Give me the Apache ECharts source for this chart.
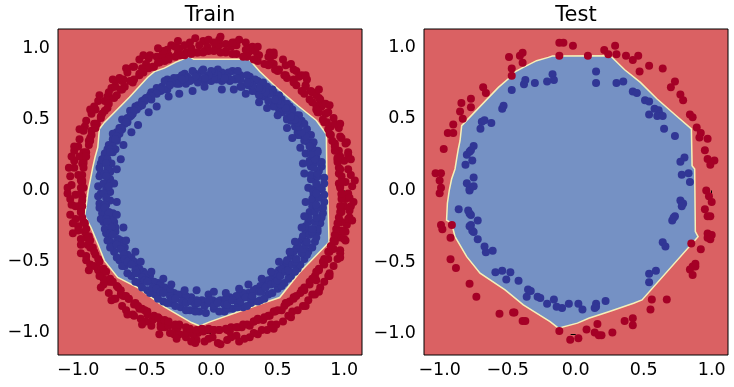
<!DOCTYPE html>
<html><head><meta charset="utf-8">
<script src="https://cdn.jsdelivr.net/npm/echarts/dist/echarts.min.js"></script>
<style>html,body{margin:0;padding:0;background:#fff}#c{width:734px;height:387px}</style>
</head><body><div id="c"></div>
<script>
const titles = ['Train', 'Test'];
const xTicks = [-1.0, -0.5, 0.0, 0.5, 1.0];
const yTicks = [-1.0, -0.5, 0.0, 0.5, 1.0];
const trainXRange = [-1.152, 1.134];
const trainYRange = [-1.155, 1.135];
const testXRange = [-1.115, 1.12];
const testYRange = [-1.147, 1.126];

const trainBoundary = [[-0.925,0.001],[-0.908,0.079],[-0.891,0.161],[-0.874,0.232],[-0.853,0.303],[-0.841,0.432],[-0.803,0.479],[-0.615,0.655],[-0.477,0.796],[-0.427,0.836],[-0.352,0.860],[-0.265,0.902],[-0.192,0.930],[-0.162,0.943],[-0.132,0.922],[0.284,0.922],[0.365,0.836],[0.490,0.726],[0.653,0.596],[0.791,0.492],[0.866,0.396],[0.871,-0.013],[0.878,-0.069],[0.886,-0.363],[0.665,-0.575],[0.515,-0.751],[0.365,-0.798],[0.189,-0.857],[-0.011,-0.922],[-0.086,-0.951],[-0.149,-0.927],[-0.352,-0.817],[-0.553,-0.681],[-0.703,-0.610],[-0.803,-0.492],[-0.853,-0.374],[-0.902,-0.263],[-0.951,-0.175],[-0.938,-0.092]];

const testBoundary = [[-0.929,0.003],[-0.912,0.080],[-0.887,0.150],[-0.875,0.220],[-0.863,0.289],[-0.850,0.347],[-0.838,0.452],[-0.568,0.719],[-0.482,0.789],[-0.446,0.828],[-0.385,0.859],[-0.287,0.905],[-0.201,0.928],[-0.171,0.937],[0.255,0.939],[0.360,0.842],[0.476,0.754],[0.599,0.638],[0.733,0.526],[0.851,0.429],[0.856,0.173],[0.875,0.150],[0.880,-0.287],[0.900,-0.322],[0.488,-0.763],[0.426,-0.786],[0.243,-0.845],[0.096,-0.891],[0.013,-0.925],[-0.127,-0.960],[-0.188,-0.914],[-0.385,-0.798],[-0.519,-0.693],[-0.703,-0.577],[-0.801,-0.461],[-0.887,-0.322],[-0.912,-0.229],[-0.949,-0.206],[-0.943,-0.089]];

const trainRed = [
[1.03,-0.02],[0.96,0.05],[1.05,0.11],[0.98,0.10],[1.00,0.21],[0.95,0.22],[1.03,0.27],[0.96,0.28],[0.98,0.37],[0.90,0.39],[0.96,0.44],[0.90,0.45],[0.86,0.54],[0.88,0.55],[0.80,0.55],[0.82,0.64],[0.76,0.69],[0.79,0.67],[0.71,0.74],[0.72,0.78],[0.62,0.78],[0.64,0.84],[0.56,0.81],[0.56,0.88],[0.47,0.89],[0.47,0.95],[0.45,0.90],[0.36,0.95],[0.35,0.95],[0.29,1.00],[0.28,0.97],[0.19,1.02],[0.18,1.04],[0.11,0.98],[0.11,1.03],[0.03,1.00],
[0.97,0.03],[1.06,0.03],[1.01,0.06],[1.03,0.15],[0.96,0.16],[1.03,0.25],[0.97,0.24],[1.01,0.33],[0.93,0.33],[0.97,0.38],[0.93,0.47],[0.87,0.48],[0.92,0.51],[0.83,0.59],[0.86,0.61],[0.79,0.60],[0.81,0.65],[0.71,0.73],[0.75,0.70],[0.66,0.80],[0.68,0.81],[0.62,0.77],[0.62,0.85],[0.51,0.85],[0.54,0.92],[0.44,0.89],[0.44,0.97],[0.43,0.94],[0.31,1.01],[0.33,0.98],[0.26,1.04],[0.26,0.99],[0.15,1.01],[0.16,1.04],[0.06,1.02],[0.06,1.06],
[0.97,0.02],[0.98,0.06],[0.96,0.12],[0.97,0.15],[0.95,0.20],[0.95,0.23],[0.93,0.28],[0.93,0.31],[0.91,0.35],[0.89,0.40],[0.88,0.43],[0.85,0.48],[0.84,0.50],[0.81,0.55],[0.79,0.57],[0.76,0.62],[0.74,0.64],[0.70,0.68],[0.68,0.70],[0.64,0.74],[0.62,0.76],[0.57,0.79],[0.55,0.81],[0.50,0.84],[0.48,0.85],[0.43,0.88],[0.40,0.89],[0.35,0.91],[0.32,0.92],[0.27,0.94],[0.24,0.94],[0.19,0.96],[0.16,0.96],[0.11,0.97],[0.07,0.97],[0.02,0.98],
[1.08,0.07],[1.05,0.22],[1.02,0.34],[0.97,0.47],[0.89,0.60],[0.81,0.71],[0.71,0.81],[0.60,0.89],[0.47,0.97],[0.35,1.01],[0.21,1.06],[0.07,1.08],
[0.02,1.04],[-0.05,0.98],[-0.06,1.05],[-0.15,1.00],[-0.16,1.04],[-0.25,0.97],[-0.24,1.00],[-0.32,0.95],[-0.33,0.99],[-0.41,0.94],[-0.40,0.90],[-0.47,0.93],[-0.49,0.89],[-0.58,0.87],[-0.54,0.81],[-0.63,0.83],[-0.67,0.77],[-0.66,0.78],[-0.75,0.72],[-0.72,0.73],[-0.80,0.63],[-0.77,0.64],[-0.87,0.57],[-0.83,0.52],[-0.90,0.54],[-0.87,0.47],[-0.95,0.45],[-0.91,0.37],[-0.99,0.36],[-0.96,0.27],[-1.03,0.28],[-0.96,0.21],[-1.03,0.21],[-1.00,0.11],[-1.06,0.10],[-0.97,0.06],
[-0.03,1.01],[-0.02,1.06],[-0.10,0.97],[-0.09,1.02],[-0.19,0.97],[-0.20,1.02],[-0.30,1.02],[-0.27,1.01],[-0.37,0.95],[-0.36,0.98],[-0.46,0.95],[-0.43,0.87],[-0.54,0.92],[-0.52,0.86],[-0.59,0.87],[-0.59,0.76],[-0.69,0.79],[-0.68,0.71],[-0.72,0.77],[-0.78,0.66],[-0.77,0.69],[-0.85,0.63],[-0.80,0.56],[-0.88,0.59],[-0.88,0.47],[-0.94,0.49],[-0.90,0.42],[-0.96,0.42],[-0.92,0.35],[-1.00,0.31],[-0.99,0.24],[-1.05,0.24],[-0.97,0.19],[-1.03,0.16],[-0.98,0.07],[-1.05,0.04],
[-0.02,0.98],[-0.06,0.97],[-0.11,0.97],[-0.15,0.96],[-0.20,0.95],[-0.23,0.95],[-0.27,0.94],[-0.32,0.92],[-0.35,0.91],[-0.39,0.90],[-0.44,0.87],[-0.47,0.86],[-0.51,0.83],[-0.54,0.82],[-0.58,0.78],[-0.61,0.77],[-0.65,0.73],[-0.67,0.71],[-0.71,0.67],[-0.73,0.65],[-0.77,0.61],[-0.78,0.58],[-0.82,0.54],[-0.83,0.51],[-0.86,0.47],[-0.87,0.44],[-0.90,0.39],[-0.91,0.35],[-0.92,0.32],[-0.94,0.27],[-0.94,0.24],[-0.96,0.19],[-0.96,0.16],[-0.97,0.11],[-0.97,0.07],[-0.98,0.02],
[-0.12,1.07],[-0.25,1.05],[-0.40,1.00],[-0.51,0.95],[-0.64,0.86],[-0.74,0.78],[-0.84,0.67],[-0.91,0.57],[-0.99,0.43],[-1.03,0.31],[-1.07,0.16],[-1.08,0.02],
[-1.02,-0.03],[-0.97,-0.04],[-1.05,-0.10],[-0.98,-0.10],[-1.02,-0.20],[-0.96,-0.22],[-1.00,-0.25],[-0.94,-0.33],[-0.98,-0.34],[-0.90,-0.40],[-0.94,-0.46],[-0.87,-0.45],[-0.91,-0.52],[-0.83,-0.58],[-0.85,-0.56],[-0.77,-0.64],[-0.81,-0.66],[-0.71,-0.67],[-0.73,-0.76],[-0.66,-0.74],[-0.67,-0.81],[-0.58,-0.80],[-0.59,-0.87],[-0.52,-0.83],[-0.53,-0.90],[-0.45,-0.95],[-0.44,-0.91],[-0.35,-0.96],[-0.38,-0.94],[-0.28,-1.01],[-0.27,-0.96],[-0.19,-1.03],[-0.19,-1.00],[-0.11,-1.05],[-0.10,-1.00],[-0.02,-1.04],
[-0.96,0.02],[-1.06,-0.06],[-0.98,-0.13],[-1.02,-0.11],[-0.98,-0.15],[-1.04,-0.23],[-0.95,-0.29],[-1.00,-0.28],[-0.93,-0.38],[-0.98,-0.38],[-0.91,-0.40],[-0.94,-0.49],[-0.85,-0.55],[-0.88,-0.53],[-0.81,-0.62],[-0.84,-0.60],[-0.75,-0.64],[-0.77,-0.72],[-0.68,-0.73],[-0.72,-0.76],[-0.62,-0.76],[-0.64,-0.84],[-0.54,-0.83],[-0.58,-0.88],[-0.48,-0.87],[-0.49,-0.92],[-0.38,-0.96],[-0.39,-0.90],[-0.31,-1.00],[-0.32,-0.95],[-0.24,-1.01],[-0.25,-0.96],[-0.14,-1.01],[-0.15,-1.06],[-0.06,-0.99],[-0.05,-1.06],
[-0.98,-0.02],[-0.97,-0.07],[-0.97,-0.11],[-0.98,-0.15],[-0.97,-0.19],[-0.95,-0.23],[-0.94,-0.27],[-0.92,-0.32],[-0.91,-0.35],[-0.89,-0.40],[-0.88,-0.43],[-0.85,-0.48],[-0.84,-0.50],[-0.81,-0.55],[-0.79,-0.57],[-0.76,-0.62],[-0.74,-0.64],[-0.70,-0.68],[-0.68,-0.70],[-0.64,-0.74],[-0.62,-0.76],[-0.57,-0.79],[-0.55,-0.81],[-0.50,-0.84],[-0.48,-0.85],[-0.43,-0.88],[-0.40,-0.89],[-0.35,-0.91],[-0.32,-0.92],[-0.27,-0.94],[-0.24,-0.94],[-0.19,-0.96],[-0.16,-0.97],[-0.11,-0.98],[-0.07,-0.97],[-0.02,-0.98],
[-1.08,-0.02],[-1.06,-0.17],[-1.04,-0.30],[-0.98,-0.44],[-0.92,-0.56],[-0.83,-0.68],[-0.75,-0.77],[-0.63,-0.87],[-0.52,-0.94],[-0.39,-1.01],[-0.26,-1.04],[-0.12,-1.07],
[0.01,-1.03],[0.02,-0.98],[0.12,-1.05],[0.12,-0.98],[0.19,-1.02],[0.20,-0.96],[0.29,-1.03],[0.29,-0.95],[0.38,-0.98],[0.35,-0.90],[0.45,-0.94],[0.44,-0.88],[0.54,-0.92],[0.53,-0.84],[0.61,-0.85],[0.59,-0.78],[0.69,-0.81],[0.67,-0.72],[0.76,-0.73],[0.74,-0.66],[0.82,-0.68],[0.78,-0.60],[0.88,-0.60],[0.85,-0.52],[0.92,-0.53],[0.89,-0.43],[0.97,-0.44],[0.93,-0.36],[1.00,-0.34],[0.97,-0.33],[1.02,-0.24],[0.98,-0.22],[1.04,-0.19],[1.00,-0.11],[1.05,-0.11],[0.98,-0.03],
[-0.02,-0.97],[0.05,-1.07],[0.06,-0.98],[0.15,-1.03],[0.14,-0.99],[0.25,-1.04],[0.23,-0.96],[0.32,-1.00],[0.32,-0.92],[0.42,-0.98],[0.39,-0.91],[0.49,-0.94],[0.47,-0.85],[0.58,-0.88],[0.56,-0.79],[0.65,-0.84],[0.62,-0.75],[0.73,-0.77],[0.70,-0.70],[0.78,-0.73],[0.79,-0.63],[0.85,-0.64],[0.81,-0.56],[0.89,-0.58],[0.88,-0.48],[0.95,-0.48],[0.92,-0.41],[0.97,-0.42],[0.94,-0.32],[1.01,-0.29],[0.98,-0.28],[1.03,-0.20],[0.98,-0.15],[1.04,-0.14],[1.01,-0.06],[1.04,-0.05],
[0.02,-0.98],[0.06,-0.98],[0.11,-0.97],[0.15,-0.96],[0.19,-0.96],[0.24,-0.94],[0.27,-0.94],[0.32,-0.92],[0.35,-0.91],[0.40,-0.89],[0.43,-0.88],[0.48,-0.85],[0.50,-0.84],[0.55,-0.81],[0.57,-0.79],[0.62,-0.76],[0.64,-0.74],[0.68,-0.70],[0.70,-0.68],[0.74,-0.64],[0.76,-0.62],[0.79,-0.57],[0.81,-0.55],[0.84,-0.50],[0.85,-0.48],[0.88,-0.43],[0.90,-0.39],[0.92,-0.35],[0.93,-0.31],[0.94,-0.27],[0.95,-0.23],[0.96,-0.19],[0.97,-0.15],[0.97,-0.11],[0.98,-0.06],[0.98,-0.02],
[0.07,-1.08],[0.21,-1.06],[0.35,-1.01],[0.47,-0.97],[0.60,-0.89],[0.71,-0.81],[0.81,-0.71],[0.89,-0.60],[0.97,-0.47],[1.01,-0.35],[1.06,-0.21],[1.07,-0.08]
];

const trainBlue = [
[0.83,0.01],[0.76,0.01],[0.85,0.09],[0.77,0.09],[0.83,0.17],[0.75,0.17],[0.79,0.23],[0.74,0.21],[0.80,0.28],[0.73,0.34],[0.76,0.32],[0.67,0.39],[0.72,0.43],[0.65,0.41],[0.68,0.49],[0.60,0.49],[0.64,0.53],[0.57,0.50],[0.59,0.59],[0.51,0.57],[0.53,0.64],[0.47,0.60],[0.47,0.69],[0.40,0.66],[0.42,0.73],[0.35,0.69],[0.35,0.77],[0.28,0.74],[0.29,0.80],[0.22,0.73],[0.22,0.81],[0.14,0.77],[0.16,0.84],[0.08,0.77],[0.08,0.83],[0.00,0.77],
[0.77,-0.03],[0.85,0.05],[0.75,0.08],[0.81,0.14],[0.75,0.11],[0.83,0.20],[0.74,0.19],[0.80,0.27],[0.71,0.26],[0.77,0.34],[0.70,0.35],[0.75,0.39],[0.65,0.39],[0.70,0.47],[0.63,0.45],[0.66,0.53],[0.57,0.51],[0.61,0.57],[0.53,0.55],[0.57,0.61],[0.47,0.59],[0.51,0.67],[0.43,0.63],[0.46,0.71],[0.36,0.67],[0.39,0.76],[0.31,0.70],[0.33,0.78],[0.23,0.73],[0.27,0.81],[0.18,0.78],[0.20,0.84],[0.10,0.78],[0.13,0.83],[0.04,0.78],[0.05,0.85],
[0.81,0.02],[0.79,0.05],[0.80,0.10],[0.80,0.12],[0.77,0.16],[0.79,0.20],[0.78,0.22],[0.75,0.26],[0.76,0.30],[0.74,0.31],[0.71,0.36],[0.71,0.38],[0.68,0.41],[0.66,0.45],[0.65,0.48],[0.63,0.50],[0.60,0.52],[0.57,0.56],[0.56,0.58],[0.52,0.61],[0.50,0.63],[0.48,0.64],[0.44,0.68],[0.41,0.69],[0.38,0.71],[0.36,0.72],[0.31,0.74],[0.29,0.76],[0.27,0.76],[0.22,0.78],[0.19,0.79],[0.15,0.78],[0.12,0.80],[0.10,0.79],[0.05,0.81],[0.02,0.79],
[0.73,0.02],[0.70,0.12],[0.69,0.19],[0.67,0.30],[0.61,0.37],[0.57,0.44],[0.50,0.53],[0.42,0.58],[0.36,0.62],[0.26,0.68],[0.17,0.71],[0.08,0.71],
[0.02,0.83],[-0.05,0.77],[-0.06,0.85],[-0.13,0.78],[-0.12,0.82],[-0.19,0.75],[-0.20,0.82],[-0.27,0.76],[-0.25,0.79],[-0.33,0.71],[-0.33,0.78],[-0.41,0.71],[-0.37,0.73],[-0.45,0.64],[-0.45,0.69],[-0.52,0.61],[-0.49,0.65],[-0.57,0.59],[-0.55,0.60],[-0.63,0.51],[-0.59,0.54],[-0.67,0.50],[-0.63,0.48],[-0.71,0.41],[-0.67,0.43],[-0.74,0.36],[-0.71,0.37],[-0.78,0.29],[-0.72,0.29],[-0.80,0.25],[-0.75,0.19],[-0.83,0.19],[-0.76,0.13],[-0.83,0.12],[-0.78,0.05],[-0.85,0.03],
[-0.03,0.78],[0.00,0.84],[-0.10,0.76],[-0.07,0.84],[-0.18,0.80],[-0.14,0.84],[-0.24,0.75],[-0.22,0.81],[-0.31,0.75],[-0.28,0.79],[-0.38,0.70],[-0.35,0.77],[-0.43,0.69],[-0.41,0.72],[-0.50,0.64],[-0.46,0.67],[-0.54,0.59],[-0.52,0.63],[-0.61,0.56],[-0.56,0.58],[-0.64,0.48],[-0.60,0.53],[-0.69,0.44],[-0.65,0.47],[-0.74,0.40],[-0.69,0.40],[-0.77,0.32],[-0.71,0.35],[-0.80,0.26],[-0.74,0.27],[-0.82,0.22],[-0.76,0.14],[-0.84,0.16],[-0.76,0.08],[-0.84,0.10],[-0.78,-0.01],
[-0.02,0.81],[-0.05,0.79],[-0.10,0.80],[-0.12,0.80],[-0.16,0.77],[-0.20,0.79],[-0.22,0.78],[-0.26,0.75],[-0.30,0.76],[-0.31,0.74],[-0.36,0.71],[-0.38,0.71],[-0.41,0.68],[-0.45,0.66],[-0.48,0.65],[-0.50,0.63],[-0.52,0.60],[-0.56,0.57],[-0.58,0.56],[-0.61,0.52],[-0.63,0.50],[-0.64,0.48],[-0.68,0.44],[-0.69,0.41],[-0.71,0.38],[-0.72,0.36],[-0.74,0.31],[-0.76,0.29],[-0.76,0.27],[-0.78,0.22],[-0.79,0.19],[-0.78,0.15],[-0.80,0.12],[-0.79,0.10],[-0.81,0.05],[-0.79,0.02],
[-0.05,0.73],[-0.14,0.70],[-0.24,0.68],[-0.32,0.66],[-0.41,0.59],[-0.47,0.55],[-0.55,0.46],[-0.60,0.41],[-0.66,0.32],[-0.68,0.22],[-0.71,0.15],[-0.73,0.05],
[-0.83,-0.02],[-0.76,-0.01],[-0.84,-0.09],[-0.76,-0.07],[-0.82,-0.16],[-0.74,-0.16],[-0.81,-0.22],[-0.73,-0.22],[-0.79,-0.30],[-0.72,-0.29],[-0.76,-0.36],[-0.68,-0.35],[-0.73,-0.43],[-0.65,-0.40],[-0.69,-0.49],[-0.60,-0.47],[-0.65,-0.53],[-0.57,-0.51],[-0.60,-0.60],[-0.51,-0.57],[-0.54,-0.65],[-0.46,-0.60],[-0.48,-0.70],[-0.40,-0.65],[-0.42,-0.73],[-0.35,-0.68],[-0.36,-0.78],[-0.28,-0.72],[-0.30,-0.79],[-0.22,-0.73],[-0.23,-0.82],[-0.15,-0.75],[-0.16,-0.84],[-0.07,-0.77],[-0.09,-0.85],[0.00,-0.78],
[-0.77,0.03],[-0.85,-0.04],[-0.79,-0.10],[-0.84,-0.12],[-0.77,-0.15],[-0.83,-0.20],[-0.74,-0.20],[-0.80,-0.27],[-0.72,-0.26],[-0.78,-0.35],[-0.70,-0.34],[-0.76,-0.40],[-0.67,-0.39],[-0.71,-0.47],[-0.63,-0.45],[-0.67,-0.53],[-0.58,-0.50],[-0.63,-0.58],[-0.54,-0.55],[-0.57,-0.64],[-0.49,-0.59],[-0.52,-0.68],[-0.43,-0.64],[-0.46,-0.72],[-0.38,-0.66],[-0.40,-0.76],[-0.31,-0.70],[-0.33,-0.79],[-0.25,-0.73],[-0.27,-0.81],[-0.19,-0.74],[-0.19,-0.84],[-0.11,-0.77],[-0.12,-0.85],[-0.05,-0.78],[-0.04,-0.86],
[-0.81,-0.02],[-0.79,-0.05],[-0.80,-0.10],[-0.80,-0.12],[-0.77,-0.16],[-0.79,-0.20],[-0.78,-0.22],[-0.75,-0.26],[-0.76,-0.30],[-0.74,-0.31],[-0.71,-0.36],[-0.71,-0.38],[-0.68,-0.41],[-0.66,-0.45],[-0.65,-0.48],[-0.63,-0.50],[-0.60,-0.52],[-0.57,-0.56],[-0.56,-0.58],[-0.52,-0.61],[-0.50,-0.63],[-0.48,-0.64],[-0.44,-0.68],[-0.41,-0.69],[-0.38,-0.71],[-0.36,-0.72],[-0.31,-0.74],[-0.29,-0.76],[-0.27,-0.76],[-0.22,-0.78],[-0.19,-0.79],[-0.15,-0.78],[-0.12,-0.80],[-0.10,-0.79],[-0.05,-0.81],[-0.02,-0.79],
[-0.71,-0.08],[-0.71,-0.17],[-0.66,-0.26],[-0.64,-0.35],[-0.57,-0.43],[-0.53,-0.50],[-0.45,-0.57],[-0.36,-0.62],[-0.30,-0.66],[-0.20,-0.70],[-0.11,-0.70],[-0.02,-0.73],
[0.02,-0.83],[0.01,-0.77],[0.10,-0.85],[0.07,-0.77],[0.16,-0.83],[0.14,-0.75],[0.24,-0.82],[0.22,-0.73],[0.30,-0.79],[0.28,-0.72],[0.37,-0.77],[0.34,-0.69],[0.43,-0.73],[0.40,-0.64],[0.50,-0.69],[0.46,-0.61],[0.55,-0.65],[0.51,-0.56],[0.60,-0.60],[0.56,-0.52],[0.65,-0.55],[0.60,-0.46],[0.70,-0.48],[0.64,-0.41],[0.73,-0.43],[0.68,-0.35],[0.78,-0.36],[0.71,-0.28],[0.80,-0.29],[0.73,-0.22],[0.82,-0.23],[0.74,-0.15],[0.84,-0.16],[0.76,-0.08],[0.85,-0.08],[0.77,-0.01],
[-0.02,-0.77],[0.06,-0.85],[0.05,-0.78],[0.13,-0.83],[0.11,-0.76],[0.20,-0.82],[0.19,-0.74],[0.27,-0.81],[0.24,-0.72],[0.35,-0.78],[0.32,-0.70],[0.40,-0.76],[0.37,-0.67],[0.46,-0.72],[0.43,-0.63],[0.53,-0.67],[0.48,-0.58],[0.58,-0.62],[0.53,-0.55],[0.63,-0.57],[0.57,-0.49],[0.67,-0.52],[0.62,-0.43],[0.72,-0.45],[0.65,-0.38],[0.76,-0.40],[0.69,-0.32],[0.79,-0.33],[0.71,-0.25],[0.80,-0.27],[0.73,-0.19],[0.83,-0.19],[0.76,-0.11],[0.84,-0.12],[0.76,-0.06],[0.85,-0.03],
[0.02,-0.81],[0.05,-0.79],[0.10,-0.80],[0.12,-0.80],[0.16,-0.77],[0.20,-0.79],[0.22,-0.78],[0.26,-0.75],[0.30,-0.76],[0.31,-0.74],[0.36,-0.71],[0.38,-0.71],[0.41,-0.68],[0.45,-0.66],[0.48,-0.65],[0.50,-0.63],[0.52,-0.60],[0.56,-0.57],[0.58,-0.56],[0.61,-0.52],[0.63,-0.50],[0.64,-0.48],[0.68,-0.44],[0.69,-0.41],[0.71,-0.38],[0.72,-0.36],[0.74,-0.31],[0.76,-0.29],[0.76,-0.27],[0.78,-0.22],[0.79,-0.19],[0.78,-0.15],[0.80,-0.12],[0.79,-0.10],[0.81,-0.05],[0.79,-0.02],
[0.02,-0.71],[0.11,-0.72],[0.21,-0.69],[0.28,-0.66],[0.38,-0.62],[0.45,-0.57],[0.51,-0.50],[0.59,-0.43],[0.63,-0.36],[0.68,-0.26],[0.70,-0.18],[0.71,-0.08]
];

const testRed = [[-0.12,1.03],[-0.09,1.03],[-0.02,1.01],[-0.12,0.94],[0.09,0.94],[0.21,0.98],[0.24,0.95],[0.29,1.01],[0.30,0.95],[0.37,0.94],[0.42,0.91],[0.46,0.94],[0.47,0.83],[0.54,0.87],[0.64,0.85],[0.73,0.76],[0.70,0.72],[0.77,0.67],[0.79,0.63],[0.84,0.53],[0.86,0.51],[0.89,0.44],[0.92,0.40],[0.91,0.37],[0.97,0.36],[0.95,0.28],[0.97,0.22],[1.02,0.21],[0.99,0.18],[0.96,0.00],[0.98,-0.04],[1.00,-0.08],[0.95,-0.13],[0.97,-0.18],[0.99,-0.18],[0.97,-0.30],[1.00,-0.31],[0.97,-0.33],[0.99,-0.34],[0.85,-0.37],[0.92,-0.41],[0.88,-0.51],[0.86,-0.53],[0.88,-0.53],[0.84,-0.55],[0.86,-0.59],[0.56,-0.76],[0.67,-0.76],[0.55,-0.83],[0.36,-0.91],[0.42,-0.89],[0.42,-0.94],[0.27,-0.99],[0.16,-0.93],[0.14,-0.99],[0.17,-1.01],[0.19,-1.01],[0.08,-0.97],[0.02,-1.03],[-0.04,-1.04],[-0.12,-0.98],[-0.39,-0.91],[-0.37,-0.91],[-0.46,-0.85],[-0.45,-0.85],[-0.56,-0.86],[-0.73,-0.74],[-0.78,-0.65],[-0.88,-0.54],[-0.92,-0.48],[-0.92,-0.33],[-0.91,-0.24],[-0.99,-0.24],[-0.98,-0.27],[-1.00,-0.02],[-0.99,0.02],[-1.00,0.07],[-1.03,0.12],[-0.99,0.12],[-0.97,0.29],[-0.94,0.40],[-0.90,0.46],[-0.90,0.40],[-0.85,0.55],[-0.83,0.50],[-0.84,0.61],[-0.77,0.58],[-0.77,0.64],[-0.68,0.72],[-0.66,0.68],[-0.49,0.93],[-0.47,0.85],[-0.47,0.80],[-0.41,0.94],[-0.39,0.96],[-0.39,0.89]];

const testBlue = [[-0.17,0.81],[-0.16,0.77],[-0.21,0.76],[0.15,0.83],[0.15,0.75],[0.30,0.75],[0.35,0.76],[0.42,0.69],[0.45,0.68],[0.51,0.63],[0.54,0.62],[0.58,0.57],[0.61,0.56],[0.62,0.53],[0.60,0.52],[0.54,0.53],[0.64,0.52],[0.65,0.43],[0.73,0.38],[0.80,0.23],[0.77,0.20],[0.83,0.12],[0.78,0.11],[0.84,0.06],[0.77,-0.07],[0.79,-0.09],[0.78,-0.11],[0.73,-0.18],[0.71,-0.21],[0.72,-0.19],[0.64,-0.36],[0.66,-0.39],[0.59,-0.56],[0.54,-0.58],[0.54,-0.64],[0.22,-0.77],[0.15,-0.79],[0.15,-0.81],[0.14,-0.82],[0.05,-0.83],[0.02,-0.79],[-0.05,-0.79],[-0.10,-0.82],[-0.14,-0.81],[-0.16,-0.76],[-0.21,-0.79],[-0.28,-0.74],[-0.26,-0.75],[-0.36,-0.74],[-0.35,-0.69],[-0.33,-0.70],[-0.42,-0.63],[-0.51,-0.62],[-0.48,-0.57],[-0.54,-0.56],[-0.59,-0.57],[-0.61,-0.42],[-0.66,-0.43],[-0.67,-0.39],[-0.72,-0.34],[-0.75,-0.29],[-0.76,-0.28],[-0.77,-0.24],[-0.78,-0.25],[-0.72,-0.21],[-0.77,-0.17],[-0.78,-0.16],[-0.79,-0.14],[-0.86,-0.13],[-0.78,0.00],[-0.78,0.01],[-0.75,0.03],[-0.80,0.05],[-0.75,0.09],[-0.81,0.18],[-0.76,0.21],[-0.80,0.25],[-0.78,0.27],[-0.77,0.28],[-0.75,0.31],[-0.70,0.43],[-0.69,0.48],[-0.67,0.49],[-0.62,0.47],[-0.54,0.57],[-0.53,0.59],[-0.47,0.70],[-0.38,0.74],[-0.37,0.77],[-0.30,0.75]];

const RED_BG = '#da6163', BLUE_BG = '#7591c4', EDGE = '#f6f0b8';
const RED_PT = '#a50026', BLUE_PT = '#313695';
const FONT = 'DejaVu Sans';
const fmt = v => (v < 0 ? '\u2212' : '') + Math.abs(v).toFixed(1);

function xAx(i, range) {
  return { gridIndex: i, type: 'value', min: range[0], max: range[1],
    axisLine: { show: false }, splitLine: { show: false },
    axisTick: { show: true, customValues: xTicks, length: 5, inside: false, lineStyle: { color: '#000', width: 1 } },
    axisLabel: { show: true, customValues: xTicks, formatter: fmt, fontSize: 17.5, fontFamily: FONT, color: '#000', margin: 6 } };
}
function yAx(i, range) {
  return { gridIndex: i, type: 'value', min: range[0], max: range[1],
    axisLine: { show: false }, splitLine: { show: false },
    axisTick: { show: true, customValues: yTicks, length: 5, inside: false, lineStyle: { color: '#000', width: 1 } },
    axisLabel: { show: true, customValues: yTicks, formatter: fmt, fontSize: 17.5, fontFamily: FONT, color: '#000', margin: 8 } };
}
function region(i, poly) {
  return { type: 'custom', xAxisIndex: i, yAxisIndex: i, data: [[0, 0]], z: 2, silent: true, clip: true,
    renderItem: (params, api) => ({ type: 'polygon',
      shape: { points: poly.map(p => api.coord(p)) },
      style: { fill: BLUE_BG, stroke: EDGE, lineWidth: 1.5 } }) };
}
function pts(i, data, color) {
  return { type: 'scatter', xAxisIndex: i, yAxisIndex: i, data: data, symbol: 'circle', symbolSize: 8,
    itemStyle: { color: color, opacity: 1 }, z: 3, silent: true };
}

const chart = echarts.init(document.getElementById('c'), null, { renderer: 'canvas' });
chart.setOption({
  animation: false,
  backgroundColor: '#fff',
  grid: [
    { left: 58, top: 29, width: 304, height: 326, show: true, backgroundColor: RED_BG, borderColor: '#000', borderWidth: 1 },
    { left: 424, top: 29, width: 304, height: 326, show: true, backgroundColor: RED_BG, borderColor: '#000', borderWidth: 1 }
  ],
  xAxis: [xAx(0, trainXRange), xAx(1, testXRange)],
  yAxis: [yAx(0, trainYRange), yAx(1, testYRange)],
  graphic: [
    { type: 'text', x: 210, y: 15.5, style: { text: titles[0], textAlign: 'center', textVerticalAlign: 'middle', font: '21px "DejaVu Sans"', fill: '#000' } },
    { type: 'text', x: 576, y: 15.5, style: { text: titles[1], textAlign: 'center', textVerticalAlign: 'middle', font: '21px "DejaVu Sans"', fill: '#000' } }
  ],
  series: [
    region(0, trainBoundary), pts(0, trainRed, RED_PT), pts(0, trainBlue, BLUE_PT),
    region(1, testBoundary), pts(1, testRed, RED_PT), pts(1, testBlue, BLUE_PT)
  ]
});
</script></body></html>
